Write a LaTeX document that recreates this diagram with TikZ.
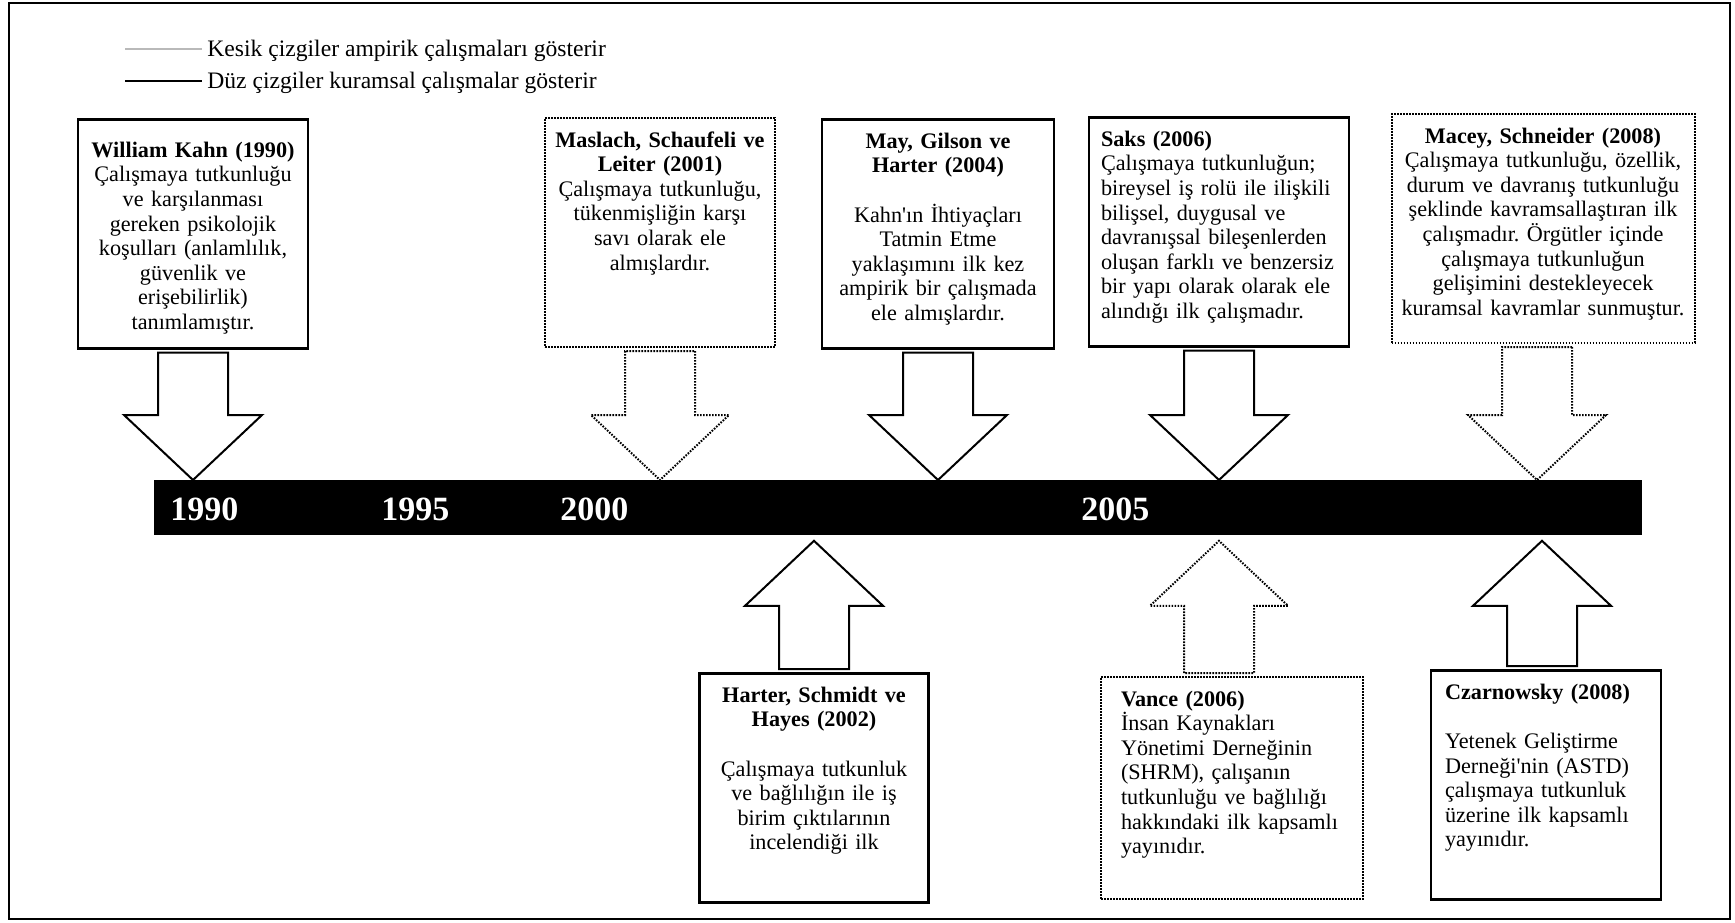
\documentclass[tikz,border=0pt]{standalone}
\usepackage{fontspec}
\setmainfont{Liberation Serif}
\usepackage{tikz}
\usetikzlibrary{calc}
\frenchspacing
\hyphenpenalty=10000

\newcommand{\bigarrow}[3][]{%
  \coordinate (ah) at ($(#3)!32.5pt!(#2)$);
  \draw[#1] ($(#2)!17.5pt!90:(#3)$) -- ($(ah)!17.5pt!-90:(#2)$) -- ($(ah)!34.5pt!-90:(#2)$) -- (#3)
    -- ($(ah)!34.5pt!90:(#2)$) -- ($(ah)!17.5pt!90:(#2)$) -- ($(#2)!17.5pt!-90:(#3)$) -- cycle;}
\newcommand{\arrowdown}[3][]{%
  \coordinate (#2s) at ($(#2.south)+(#3,3)$);
  \coordinate (#2e) at (#2s |- bar.north);
  \bigarrow[#1]{#2s}{#2e}}
\newcommand{\arrowup}[3][]{%
  \coordinate (#2s) at ($(#2.north)+(#3,-3)$);
  \coordinate (#2e) at ($(#2s |- bar.south)+(0,5)$);
  \bigarrow[#1]{#2s}{#2e}}

\begin{document}
\begin{tikzpicture}[x=0.5pt,y=-0.5pt,
    txt/.style={font=\fontsize{11.1pt}{12.3pt}\selectfont},
    box/.style={txt,draw,line width=1.3pt,inner xsep=4pt,inner ysep=0pt,text height=14.5pt,text depth=100pt,align=center,anchor=north},
    dotbox/.style={box,line width=1pt,dash pattern=on 0.8pt off 0.7pt},
    leftbox/.style={align=left,inner xsep=7pt},
    solidarrow/.style={line width=1pt,fill=white},
    dotarrow/.style={line width=1pt,dash pattern=on 0.8pt off 0.7pt,fill=white},
    year/.style={text=white,font=\fontsize{17pt}{17pt}\selectfont\bfseries,inner sep=0pt,anchor=base west},
    legend/.style={font=\fontsize{11.8pt}{13pt}\selectfont,inner sep=0pt,anchor=base west}]
  \useasboundingbox (0,0) rectangle (1735,922);
  \draw[line width=1.2pt] (9,3) rectangle (1730,919);

  \draw[gray!55,line width=0.8pt] (125,49) -- (202,49);
  \node[legend] (leg1) at (207,56) {Kesik çizgiler ampirik çalışmaları gösterir};
  \draw[line width=0.8pt] (125,81) -- (202,81);
  \node[legend] (leg2) at (207,88) {Düz çizgiler kuramsal çalışmalar gösterir};

  \node[fill=black,minimum width=744pt,minimum height=27.5pt,inner sep=0pt,anchor=north west] (bar) at (154,480) {};
  \node[year] (y1990) at (170,520) {1990};
  \node[year] (y1995) at (381,520) {1995};
  \node[year] (y2000) at (560,520) {2000};
  \node[year] (y2005) at (1081,520) {2005};

  \node[box,text width=107pt,text height=19pt,text depth=95.5pt] (kahn) at (193,118)
    {\textbf{William Kahn (1990)}\\Çalışmaya tutkunluğu\\ve karşılanması\\gereken psikolojik\\koşulları (anlamlılık,\\güvenlik ve\\erişebilirlik)\\tanımlamıştır.};
  \node[dotbox,text width=107pt] (maslach) at (660,117)
    {\textbf{Maslach, Schaufeli ve}\\\textbf{Leiter (2001)}\\Çalışmaya tutkunluğu,\\tükenmişliğin karşı\\savı olarak ele\\almışlardır.};
  \node[box,text width=108pt] (may) at (938,118)
    {\textbf{May, Gilson ve}\\\textbf{Harter (2004)}\\[12.3pt]Kahn\textquotesingle ın İhtiyaçları\\Tatmin Etme\\yaklaşımını ilk kez\\ampirik bir çalışmada\\ele almışlardır.};
  \node[box,leftbox,inner xsep=6pt,text width=118pt] (saks) at (1219,116)
    {\textbf{Saks (2006)}\\Çalışmaya tutkunluğun;\\bireysel iş rolü ile ilişkili\\bilişsel, duygusal ve\\davranışsal bileşenlerden\\oluşan farklı ve benzersiz\\bir yapı olarak olarak ele\\alındığı ilk çalışmadır.};
  \node[dotbox,text width=143.5pt] (macey) at (1543,113)
    {\textbf{Macey, Schneider (2008)}\\Çalışmaya tutkunluğu, özellik,\\durum ve davranış tutkunluğu\\şeklinde kavramsallaştıran ilk\\çalışmadır. Örgütler içinde\\çalışmaya tutkunluğun\\gelişimini destekleyecek\\kuramsal kavramlar sunmuştur.};

  \node[box,text width=106.5pt] (harter) at (814,672)
    {\textbf{Harter, Schmidt ve}\\\textbf{Hayes (2002)}\\[12.3pt]Çalışmaya tutkunluk\\ve bağlılığın ile iş\\birim çıktılarının\\incelendiği ilk};
  \node[dotbox,leftbox,inner xsep=10pt,text width=111pt,text depth=96.5pt] (vance) at (1232,676)
    {\textbf{Vance (2006)}\\İnsan Kaynakları\\Yönetimi Derneğinin\\(SHRM), çalışanın\\tutkunluğu ve bağlılığı\\hakkındaki ilk kapsamlı\\yayınıdır.};
  \node[box,leftbox,text width=101pt] (czarnowsky) at (1546,669)
    {\textbf{Czarnowsky (2008)}\\[12.3pt]Yetenek Geliştirme\\Derneği\textquotesingle nin (ASTD)\\çalışmaya tutkunluk\\üzerine ilk kapsamlı\\yayınıdır.};

  \arrowdown[solidarrow]{kahn}{0}
  \arrowdown[dotarrow]{maslach}{0}
  \arrowdown[solidarrow]{may}{0}
  \arrowdown[solidarrow]{saks}{0}
  \arrowdown[dotarrow]{macey}{-6}
  \arrowup[solidarrow]{harter}{0}
  \arrowup[dotarrow]{vance}{-13}
  \arrowup[solidarrow]{czarnowsky}{-4}
\end{tikzpicture}
\end{document}
